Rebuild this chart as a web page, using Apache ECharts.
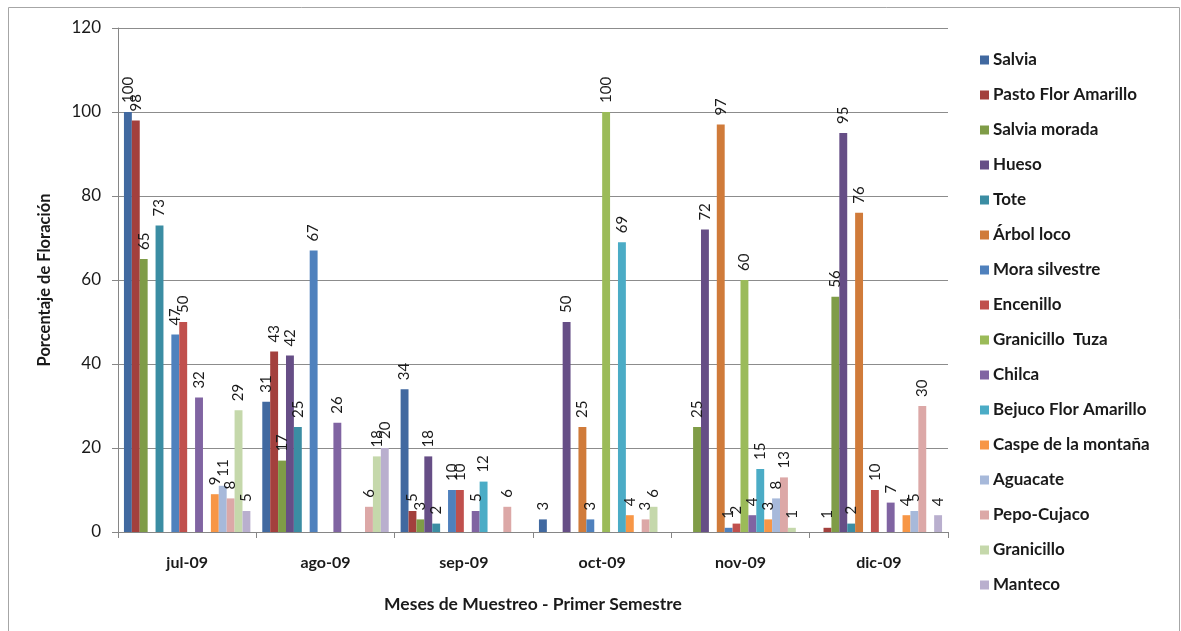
<!DOCTYPE html>
<html>
<head>
<meta charset="utf-8">
<script src="https://cdn.jsdelivr.net/npm/echarts@6/dist/echarts.min.js"></script>
<style>
  html, body { margin: 0; padding: 0; background: #ffffff; }
  #chart { width: 1181px; height: 631px; }
</style>
</head>
<body>
<div id="chart"></div>
<script>
// Months sampled
const months = ['jul-09', 'ago-09', 'sep-09', 'oct-09', 'nov-09', 'dic-09'];

// Flowering percentage per species and month (null = no record)
const salvia          = [100, 31, 34, 3, null, null];
const pastoFlorAmar   = [98, 43, 5, null, null, 1];
const salviaMorada    = [65, 17, 3, null, 25, 56];
const hueso           = [null, 42, 18, 50, 72, 95];
const tote            = [73, 25, 2, null, null, 2];
const arbolLoco       = [null, null, null, 25, 97, 76];
const moraSilvestre   = [47, 67, 10, 3, 1, null];
const encenillo       = [50, null, 10, null, 2, 10];
const granicilloTuza  = [null, null, null, 100, 60, null];
const chilca          = [32, 26, 5, null, 4, 7];
const bejucoFlorAmar  = [null, null, 12, 69, 15, null];
const caspeMontana    = [9, null, null, 4, 3, 4];
const aguacate        = [11, null, null, null, 8, 5];
const pepoCujaco      = [8, 6, 6, 3, 13, 30];
const granicillo      = [29, 18, null, 6, 1, null];
const manteco         = [5, 20, null, null, null, 4];

const yTicks = [0, 20, 40, 60, 80, 100, 120];

const speciesNames = [
  'Salvia', 'Pasto Flor Amarillo', 'Salvia morada', 'Hueso', 'Tote',
  'Árbol loco', 'Mora silvestre', 'Encenillo', 'Granicillo  Tuza', 'Chilca',
  'Bejuco Flor Amarillo', 'Caspe de la montaña', 'Aguacate', 'Pepo-Cujaco',
  'Granicillo', 'Manteco'
];
const speciesData = [
  salvia, pastoFlorAmar, salviaMorada, hueso, tote, arbolLoco, moraSilvestre,
  encenillo, granicilloTuza, chilca, bejucoFlorAmar, caspeMontana, aguacate,
  pepoCujaco, granicillo, manteco
];
const palette = [
  '#4169A0', '#A3403D', '#7F9C47', '#664E86', '#3B8DA3', '#D07B3A',
  '#4F81BD', '#C0504D', '#9BBB59', '#8064A2', '#4BACC6', '#F79646',
  '#A7B9DA', '#DCA8A7', '#C5D8AB', '#B9AFCE'
];

const FONT = 'Lato';
const INK = '#1a1a1a';

const series = speciesNames.map((name, i) => ({
  name: name,
  type: 'bar',
  data: speciesData[i],
  barGap: '0%',
  barCategoryGap: '8.6%',
  itemStyle: { color: palette[i] },
  label: {
    show: true,
    position: 'top',
    rotate: 90,
    align: 'left',
    verticalAlign: 'middle',
    distance: 9,
    fontFamily: FONT,
    fontSize: 15,
    color: INK
  }
}));

const chart = echarts.init(document.getElementById('chart'), null, { renderer: 'canvas' });
chart.setOption({
  backgroundColor: '#ffffff',
  animation: false,
  color: palette,
  textStyle: { fontFamily: FONT },
  graphic: [{
    type: 'rect',
    shape: { x: 8.5, y: 7.5, width: 1171, height: 640 },
    style: { fill: 'none', stroke: '#A6A6A6', lineWidth: 1 },
    silent: true
  }],
  grid: { left: 118, right: 233, top: 28, bottom: 99 },
  legend: {
    orient: 'vertical',
    left: 975,
    top: 46,
    icon: 'rect',
    itemWidth: 9,
    itemHeight: 9,
    itemGap: 17,
    textStyle: {
      fontFamily: FONT, fontSize: 17, lineHeight: 18, fontWeight: 'bold',
      color: INK, padding: [0, 0, 0, -1]
    },
    data: speciesNames
  },
  xAxis: {
    type: 'category',
    data: months,
    name: 'Meses de Muestreo - Primer Semestre',
    nameLocation: 'middle',
    nameGap: 63,
    nameTextStyle: { fontFamily: FONT, fontSize: 17.5, fontWeight: 'bold', color: INK },
    axisLine: { lineStyle: { color: '#868686' } },
    axisTick: { show: true, length: 6, interval: 0, lineStyle: { color: '#868686' } },
    axisLabel: { fontFamily: FONT, fontSize: 16, fontWeight: 'bold', color: INK, margin: 23 },
    splitLine: { show: false }
  },
  yAxis: {
    type: 'value',
    min: yTicks[0],
    max: yTicks[yTicks.length - 1],
    interval: yTicks[1] - yTicks[0],
    name: 'Porcentaje de Floración',
    nameLocation: 'middle',
    nameRotate: 90,
    nameGap: 65,
    nameTextStyle: { fontFamily: FONT, fontSize: 16.5, fontWeight: 'bold', color: INK },
    axisLine: { show: true, lineStyle: { color: '#868686' } },
    axisTick: { show: true, length: 6, lineStyle: { color: '#868686' } },
    axisLabel: { fontFamily: FONT, fontSize: 17, color: INK, margin: 17 },
    splitLine: { show: true, lineStyle: { color: '#8C8C8C', width: 1 } }
  },
  series: series
});
</script>
</body>
</html>
